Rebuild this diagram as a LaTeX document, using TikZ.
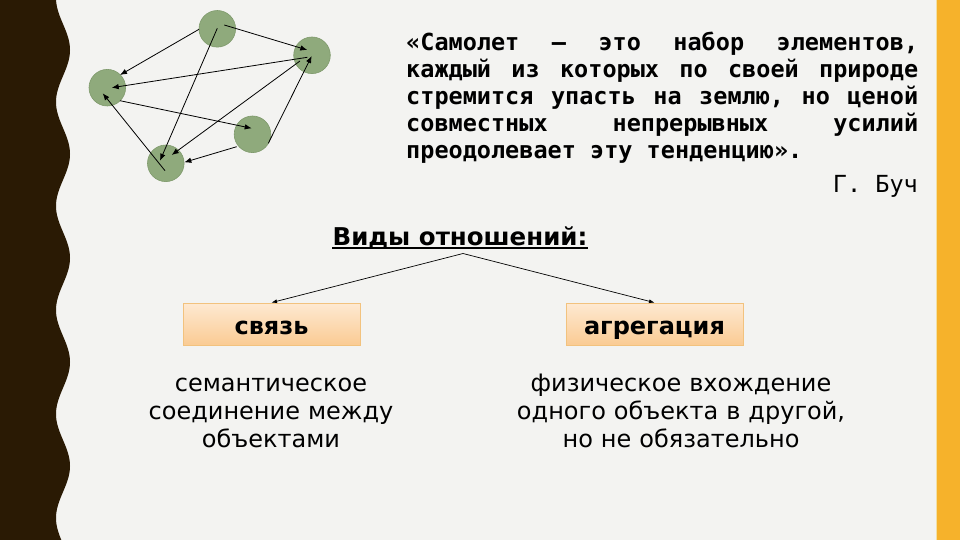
\documentclass[tikz,border=0pt]{standalone}
\usepackage{fontspec}
\usetikzlibrary{arrows.meta,calc}
\newfontfamily\monof{DejaVu Sans Mono}
\newfontfamily\sansf{DejaVu Sans}
\definecolor{bgc}{HTML}{F3F3F1}
\definecolor{darkband}{HTML}{2A1A04}
\definecolor{orangeband}{HTML}{F6B22B}
\definecolor{paleline}{HTML}{F2E0A6}
\definecolor{gfill}{HTML}{8FAA7C}
\definecolor{gborder}{HTML}{7F9A6C}
\definecolor{boxborder}{HTML}{F2C27E}
\definecolor{boxtop}{HTML}{FEE9D2}
\definecolor{boxbottom}{HTML}{FACB93}
\tikzset{
  gnode/.style={circle, minimum size=36.6pt, inner sep=0pt, fill=gfill, draw=gborder, line width=0.6pt},
  garrow/.style={-{Latex[length=7pt,width=5.5pt]}, line width=0.8pt, black},
  rarrow/.style={-{Latex[length=5.5pt,width=4pt]}, line width=0.7pt, black},
  qline/.style={inner sep=0pt, font=\monof\bfseries\fontsize{23.5}{27}\selectfont},
  qauthor/.style={inner sep=0pt, font=\monof\fontsize{23.5}{27}\selectfont},
  relbox/.style={draw=boxborder, line width=0.8pt, top color=boxtop, bottom color=boxbottom,
    minimum width=177pt, minimum height=42pt, inner sep=0pt, text height=20pt, text depth=0pt,
    font=\sansf\bfseries\fontsize{24}{28}\selectfont},
  desc/.style={inner sep=0pt, text width=360pt, align=center, font=\sansf\fontsize{24}{28}\selectfont}
}
\begin{document}
\begin{tikzpicture}[x=1pt,y=-1pt]
\useasboundingbox (0,0) rectangle (960,540);
\fill[bgc] (0,0) rectangle (960,540);
% left wavy band
\fill[darkband] (0,0) -- plot[domain=0:540,samples=271,variable=\t] ({63+7*cos(3.4615*(\t-50))},\t) -- (0,540) -- cycle;
% right band
\fill[orangeband] (937,0) rectangle (960,540);
\fill[paleline] (935.5,0) rectangle (937,540);

% graph
\node[gnode] (A) at (217.3,28.8) {};
\node[gnode] (B) at (312,55.3) {};
\node[gnode] (C) at (107.3,87.7) {};
\node[gnode] (D) at (252.5,134.3) {};
\node[gnode] (E) at (165.8,163.3) {};
\draw[garrow] ($(A)+(7,-3.8)$) -- ($(B)+(-4.7,-5.3)$);
\draw[garrow] ($(A)+(-18.3,0.5)$) -- ($(C)+(12.7,-12.7)$);
\draw[garrow] ($(A)+(0,-0.5)$) -- ($(E)+(-5.8,-2.6)$);
\draw[garrow] ($(B)+(-4.7,2)$) -- ($(C)+(4.4,0)$);
\draw[garrow] ($(B)+(-12,5.7)$) -- ($(E)+(5.9,-8.3)$);
\draw[garrow] ($(D)+(15.8,9)$) -- ($(B)+(-0.3,0.7)$);
\draw[garrow] ($(C)+(12.7,13)$) -- ($(D)+(-0.8,-6)$);
\draw[garrow] ($(D)+(-15.8,12.4)$) -- ($(E)+(18.5,-1)$);
\draw[garrow] ($(E)+(-0.8,7.4)$) -- ($(C)+(-4.6,5.6)$);

% quote
\node[qline, anchor=base west] (q1) at (406,51) {\hbox to 512pt{«Самолет\hfill —\hfill это\hfill набор\hfill элементов,}};
\node[qline, anchor=base west] (q2) at (406,78) {\hbox to 512pt{каждый\hfill из\hfill которых\hfill по\hfill своей\hfill природе}};
\node[qline, anchor=base west] (q3) at (406,105) {\hbox to 512pt{стремится\hfill упасть\hfill на\hfill землю,\hfill но\hfill ценой}};
\node[qline, anchor=base west] (q4) at (406,132) {\hbox to 512pt{совместных\hfill непрерывных\hfill усилий}};
\node[qline, anchor=base west] (q5) at (406,159) {преодолевает эту тенденцию».};
\node[qauthor, anchor=base east] (q6) at (918,193) {Г. Буч};

% relations
\node[inner sep=0pt, anchor=base, font=\sansf\bfseries\fontsize{24.5}{28}\selectfont] (title) at (460,245) {Виды отношений:};
\draw[line width=1.6pt] ([yshift=-3pt]title.base west) -- ([yshift=-3pt]title.base east);
\coordinate (apex) at (463,253.5);
\node[relbox] (svyaz) at (271.5,324) {связь};
\node[relbox] (agreg) at (654.5,324) {агрегация};
\draw[rarrow] (apex) -- (svyaz.north);
\draw[rarrow] (apex) -- (agreg.north);

\node[desc, anchor=base] (d1) at (271,391) {семантическое\\соединение между\\объектами};
\node[desc, anchor=base] (d2) at (681,391) {физическое вхождение\\одного объекта в другой,\\но не обязательно};
\end{tikzpicture}
\end{document}
